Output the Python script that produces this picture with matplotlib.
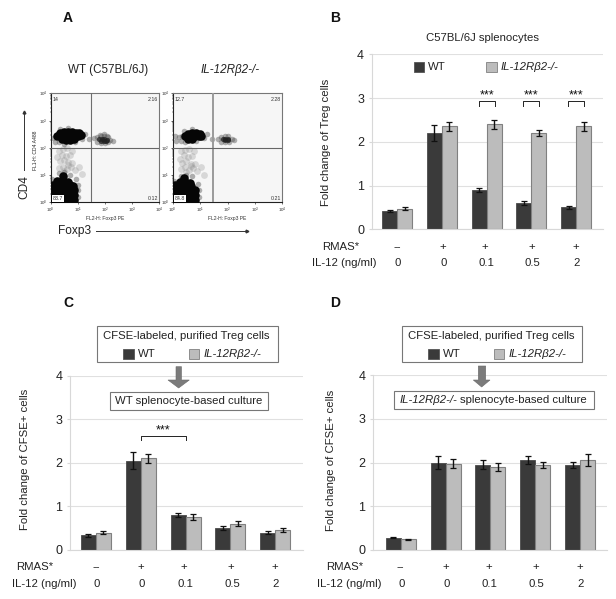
import matplotlib
matplotlib.use('Agg')
import matplotlib.pyplot as plt
import numpy as np
from matplotlib.patches import Rectangle, Polygon

plt.rcParams['font.family'] = ['Liberation Sans', 'DejaVu Sans']

W, H = 616, 599
DARK = '#3a3a3a'
LIGHT = '#bcbcbc'

rmas = ['--', '+', '+', '+', '+']
il12 = ['0', '0', '0.1', '0.5', '2']
ko_name = 'IL-12R\u03b22-/-'

# bar values
b_wt = [0.42, 2.2, 0.9, 0.6, 0.5]
b_wt_err = [0.03, 0.18, 0.05, 0.05, 0.04]
b_ko = [0.47, 2.35, 2.4, 2.2, 2.35]
b_ko_err = [0.03, 0.11, 0.1, 0.07, 0.11]

c_wt = [0.33, 2.05, 0.8, 0.5, 0.39]
c_wt_err = [0.04, 0.2, 0.05, 0.05, 0.03]
c_ko = [0.39, 2.1, 0.75, 0.6, 0.45]
c_ko_err = [0.03, 0.1, 0.06, 0.05, 0.04]

d_wt = [0.28, 2.0, 1.95, 2.06, 1.95]
d_wt_err = [0.01, 0.15, 0.1, 0.1, 0.07]
d_ko = [0.25, 1.97, 1.9, 1.95, 2.06]
d_ko_err = [0.01, 0.1, 0.09, 0.07, 0.13]

# flow dots, in decades (log10), estimated by eye
wt_dense_x = [0.1, 0.3, 0.5, 0.7, 0.85, 0.1, 0.3, 0.5, 0.7, 0.85, 0.1, 0.3, 0.5, 0.7, 0.85, 0.1, 0.3, 0.5, 0.7, 0.82, 0.25, 0.45, 0.65, 0.45,
              0.25, 0.4, 0.55, 0.7, 0.85, 1.0, 1.12, 0.35, 0.5, 0.65, 0.8, 0.95, 1.05, 0.4, 0.55, 0.7, 0.85]
wt_dense_y = [0.1, 0.1, 0.1, 0.1, 0.1, 0.28, 0.28, 0.28, 0.28, 0.28, 0.46, 0.46, 0.46, 0.46, 0.46, 0.64, 0.64, 0.64, 0.64, 0.6, 0.8, 0.8, 0.76, 0.95,
              2.44, 2.44, 2.44, 2.44, 2.44, 2.44, 2.48, 2.55, 2.58, 2.58, 2.58, 2.55, 2.55, 2.32, 2.3, 2.3, 2.34]
wt_halo_x = [0.05, 1.0, 1.02, 1.0, 0.95, 0.3, 0.5, 0.7, 0.08, 0.15, 0.3, 0.5, 0.9, 1.15, 1.25, 0.65, 0.35,
             1.6, 1.72, 1.85, 1.98, 2.1, 2.2, 1.7, 1.85, 2.0, 2.12, 1.42, 2.3, 1.8, 1.95, 2.08]
wt_halo_y = [0.85, 0.2, 0.45, 0.65, 0.85, 1.08, 1.1, 1.02, 2.35, 2.22, 2.2, 2.15, 2.2, 2.32, 2.5, 2.72, 2.68,
             2.35, 2.4, 2.42, 2.45, 2.4, 2.3, 2.22, 2.18, 2.18, 2.22, 2.33, 2.25, 2.48, 2.5, 2.45]
wt_core_x = [1.78, 1.88, 1.98, 2.08, 1.85, 1.95, 2.05]
wt_core_y = [2.32, 2.34, 2.32, 2.3, 2.25, 2.26, 2.24]
wt_cloud_x = [0.3, 0.45, 0.6, 0.75, 0.35, 0.5, 0.65, 0.8, 0.4, 0.55, 0.7, 0.3, 0.45, 0.6, 0.78, 0.5, 0.65, 0.25, 0.9, 1.05, 1.15]
wt_cloud_y = [1.25, 1.3, 1.22, 1.28, 1.5, 1.55, 1.48, 1.45, 1.75, 1.7, 1.72, 1.9, 1.95, 1.98, 1.9, 1.15, 1.38, 1.65, 1.2, 1.3, 1.05]
wt_sparse_x = [0.3, 0.42, 0.5, 0.55, 0.62, 0.7, 0.78, 0.35, 0.48, 0.58, 0.66, 0.82, 0.95, 0.25, 0.4, 0.55, 0.72, 0.9, 1.05,
               0.3, 0.47, 0.6, 0.75, 1.0, 1.2, 0.38, 0.52, 0.68, 0.85, 1.1, 1.3, 1.42, 1.28, 0.15, 0.22, 0.12, 0.08, 0.9,
               1.5, 1.62, 1.78, 1.9, 2.05, 2.2, 1.7, 1.85, 2.0, 2.3, 2.45, 1.95, 1.6, 1.72, 1.45, 1.9, 2.05, 2.12, 1.88,
               1.15, 1.25, 1.38, 1.08, 1.3, 2.05, 2.1, 2.25, 3.1, 3.3, 3.55, 2.4, 2.55, 2.85, 2.95, 1.8, 1.1, 0.2]
wt_sparse_y = [1.95, 1.85, 1.7, 1.92, 1.78, 1.6, 1.88, 1.55, 1.5, 1.62, 1.42, 1.72, 1.55, 1.35, 1.15, 1.2, 1.18, 1.38, 1.3,
               1.75, 1.9, 1.1, 1.48, 1.7, 1.4, 1.65, 1.8, 1.65, 1.25, 1.15, 1.05, 0.95, 1.6, 1.9, 1.6, 1.3, 2.05, 1.98,
               2.55, 2.6, 2.65, 2.55, 2.62, 2.5, 2.05, 2.0, 1.92, 2.1, 2.3, 1.75, 1.85, 1.55, 1.7, 1.45, 1.6, 1.3, 0.45,
               0.55, 0.3, 0.72, 0.08, 0.15, 0.55, 0.32, 0.8, 0.05, 0.1, 0.06, 2.15, 2.3, 0.12, 0.07, 3.3, 2.75, 2.8]

ko_dense_x = [0.1, 0.3, 0.5, 0.7, 0.82, 0.1, 0.3, 0.5, 0.7, 0.82, 0.1, 0.3, 0.5, 0.7, 0.82, 0.1, 0.3, 0.5, 0.68, 0.25, 0.45, 0.62, 0.42,
              0.45, 0.58, 0.7, 0.82, 0.95, 1.05, 0.55, 0.7, 0.85, 0.98, 0.55, 0.7]
ko_dense_y = [0.1, 0.1, 0.1, 0.1, 0.1, 0.28, 0.28, 0.28, 0.28, 0.28, 0.46, 0.46, 0.46, 0.46, 0.46, 0.62, 0.62, 0.62, 0.6, 0.76, 0.76, 0.72, 0.9,
              2.42, 2.42, 2.44, 2.45, 2.45, 2.45, 2.52, 2.54, 2.54, 2.5, 2.33, 2.34]
ko_halo_x = [0.05, 0.95, 0.97, 0.92, 0.3, 0.5, 0.7, 0.1, 0.22, 0.35, 0.12, 0.3, 0.45, 0.85, 1.15, 1.25, 0.7, 0.4,
             1.65, 1.75, 1.9, 2.02, 2.15, 1.75, 1.92, 2.05, 1.42, 2.25]
ko_halo_y = [0.8, 0.2, 0.45, 0.68, 0.98, 1.02, 0.95, 2.42, 2.4, 2.45, 2.25, 2.25, 2.2, 2.25, 2.35, 2.5, 2.68, 2.62,
             2.33, 2.38, 2.42, 2.42, 2.32, 2.22, 2.2, 2.22, 2.33, 2.3]
ko_core_x = [1.82, 1.92, 2.02, 1.9, 2.0]
ko_core_y = [2.33, 2.34, 2.32, 2.27, 2.27]
ko_cloud_x = [0.3, 0.45, 0.6, 0.75, 0.35, 0.5, 0.65, 0.8, 0.4, 0.55, 0.7, 0.3, 0.45, 0.6, 0.78, 0.5, 0.65, 0.25, 0.9, 1.05, 1.15]
ko_cloud_y = [1.22, 1.28, 1.2, 1.25, 1.45, 1.52, 1.42, 1.4, 1.72, 1.68, 1.7, 1.88, 1.92, 1.95, 1.88, 1.12, 1.35, 1.6, 1.15, 1.3, 1.0]
ko_sparse_x = [0.3, 0.42, 0.5, 0.55, 0.62, 0.7, 0.78, 0.35, 0.48, 0.58, 0.66, 0.82, 0.95, 0.25, 0.4, 0.55, 0.72, 0.9, 1.05,
               0.3, 0.47, 0.6, 0.75, 1.0, 1.2, 0.38, 0.52, 0.68, 0.85, 1.1, 1.3, 1.35, 1.25, 0.15, 0.22, 0.12, 0.08, 0.9,
               1.5, 1.62, 1.78, 1.9, 2.05, 2.2, 1.7, 1.85, 2.0, 2.3, 2.4, 1.95, 1.6, 1.72, 1.45, 1.9, 2.05, 1.88,
               1.15, 1.25, 1.05, 2.0, 1.95, 2.05, 3.0, 3.2, 3.45, 1.9, 1.95, 2.05, 1.1, 0.2]
ko_sparse_y = [1.95, 1.85, 1.7, 1.92, 1.78, 1.6, 1.88, 1.55, 1.5, 1.62, 1.42, 1.72, 1.55, 1.35, 1.15, 1.2, 1.18, 1.38, 1.3,
               1.75, 1.9, 1.1, 1.48, 1.7, 1.4, 1.65, 1.8, 1.65, 1.25, 1.15, 1.05, 1.2, 1.6, 1.9, 1.6, 1.3, 2.05, 1.98,
               2.55, 2.6, 2.65, 2.55, 2.62, 2.5, 2.05, 2.0, 1.92, 2.1, 2.3, 1.75, 1.85, 1.55, 1.7, 1.45, 1.6, 0.85,
               0.55, 0.3, 0.08, 0.55, 0.32, 0.12, 3.8, 3.82, 3.78, 3.65, 3.72, 3.68, 2.75, 2.8]

fig = plt.figure(figsize=(W / 100, H / 100), dpi=100, facecolor='white')


def fx(px):
    return px / W


def fy(py):
    return 1 - py / H


def add_axes(left, right, top, bottom):
    return fig.add_axes([fx(left), fy(bottom), (right - left) / W, (bottom - top) / H])


def label(px, py, s, **kw):
    kw.setdefault('ha', 'center')
    kw.setdefault('va', 'center')
    kw.setdefault('fontsize', 8.2)
    kw.setdefault('color', '#222222')
    return fig.text(fx(px), fy(py), s, **kw)


def box(x0, x1, y0, y1, **kw):
    fig.add_artist(Rectangle((fx(x0), fy(y1)), (x1 - x0) / W, (y1 - y0) / H,
                             transform=fig.transFigure, **kw))


def legend_row(wt_sq, wt_txt, ko_sq, ko_txt, y0, y1):
    box(wt_sq, wt_sq + 10.5, y0, y1, facecolor=DARK, edgecolor='#555555', lw=0.6, zorder=7)
    label(wt_txt, (y0 + y1) / 2 - 0.5, 'WT', ha='left', zorder=7)
    box(ko_sq, ko_sq + 10.5, y0, y1, facecolor=LIGHT, edgecolor='#808080', lw=0.6, zorder=7)
    label(ko_txt, (y0 + y1) / 2 - 0.5, ko_name, ha='left', style='italic', zorder=7)


def down_arrow(x0, x1, hx0, hx1, y0, y1, tip):
    pts = [(x0, y0), (x1, y0), (x1, y1), (hx1, y1), ((hx0 + hx1) / 2, tip), (hx0, y1), (x0, y1)]
    fig.add_artist(Polygon([(fx(a), fy(b)) for a, b in pts], closed=True,
                           transform=fig.transFigure, facecolor='#7b7b7b', edgecolor='#6a6a6a', lw=0.4))


def bars(ax, wt, wt_err, ko, ko_err):
    x = np.arange(5)
    w = 0.335
    ekw = dict(ecolor='#111111', elinewidth=1.0, capsize=2.2, capthick=0.9)
    ax.bar(x - w / 2, wt, w, color=DARK, edgecolor='#4a4a4a', lw=0.6, yerr=wt_err, error_kw=ekw, zorder=2)
    ax.bar(x + w / 2, ko, w, color=LIGHT, edgecolor='#808080', lw=0.8, yerr=ko_err, error_kw=ekw, zorder=2)
    ax.set_ylim(0, 4)
    ax.set_yticks([0, 1, 2, 3, 4])
    ax.set_xticks([])
    ax.grid(axis='y', color='#e0e0e0', lw=0.8, zorder=0)
    ax.set_axisbelow(True)
    for s in ['top', 'right']:
        ax.spines[s].set_visible(False)
    for s in ['left', 'bottom']:
        ax.spines[s].set_color('#d8d8d8')
        ax.spines[s].set_linewidth(0.8)
    ax.tick_params(axis='y', length=2.5, color='#d8d8d8', labelsize=9, labelcolor='#222222', pad=3)


def bracket(ax, x0, x1, top, low, star_y):
    ax.plot([x0, x0, x1, x1], [low, top, top, low], color='#222222', lw=0.7, zorder=3)
    ax.text((x0 + x1) / 2, star_y, '***', ha='center', va='center', fontsize=9, color='#111111')


def rows(centres, name_r, name_il, y_r, y_il):
    label(name_r, y_r, 'RMAS*', ha='right')
    label(name_il, y_il, 'IL-12 (ng/ml)', ha='right')
    for c, a, b in zip(centres, rmas, il12):
        label(c, y_r, a)
        label(c + 1, y_il, b)


def flow(ax, dense_x, dense_y, halo_x, halo_y, core_x, core_y, cloud_x, cloud_y, sparse_x, sparse_y, quad_x, quad_lw, nums):
    ax.set_facecolor('#f6f6f6')
    ax.set_xscale('log')
    ax.set_yscale('log')
    ax.set_xlim(1, 1e4)
    ax.set_ylim(1, 1e4)
    ax.scatter(10 ** np.array(cloud_x), 10 ** np.array(cloud_y), s=24, c='#888888', alpha=0.28, lw=0, zorder=2)
    ax.scatter(10 ** np.array(halo_x), 10 ** np.array(halo_y), s=16, c='#555555', alpha=0.45, lw=0, zorder=2)
    ax.scatter(10 ** np.array(sparse_x), 10 ** np.array(sparse_y), s=0.5, c='#666666', marker='s', lw=0, zorder=3)
    ax.scatter(10 ** np.array(dense_x), 10 ** np.array(dense_y), s=38, c='#060606', lw=0, zorder=4)
    ax.scatter(10 ** np.array(core_x), 10 ** np.array(core_y), s=14, c='#222222', alpha=0.8, lw=0, zorder=4)
    ax.axvline(quad_x, color='#6e6e6e' if quad_lw < 1 else '#9a9a9a', lw=quad_lw, zorder=5)
    ax.axhline(100, color='#666666', lw=0.8, zorder=5)
    for s in ax.spines.values():
        s.set_color('#777777')
        s.set_linewidth(0.8)
    ax.spines['left'].set_color('#222222')
    ax.spines['bottom'].set_color('#222222')
    ax.set_xticks([1, 10, 100, 1000, 10000])
    ax.set_yticks([1, 10, 100, 1000, 10000])
    ax.minorticks_on()
    ax.tick_params(which='both', labelsize=3.2, length=1.5, width=0.4, pad=1, labelcolor='#333333')
    ax.tick_params(which='minor', length=0.8, width=0.3)
    ax.text(0.015, 0.97, nums[0], transform=ax.transAxes, fontsize=3.8, va='top', ha='left', color='#333333', zorder=6)
    ax.text(0.985, 0.97, nums[1], transform=ax.transAxes, fontsize=3.8, va='top', ha='right', color='#333333', zorder=6)
    ax.text(0.985, 0.015, nums[2], transform=ax.transAxes, fontsize=3.8, va='bottom', ha='right', color='#333333', zorder=6)
    ax.text(0.02, 0.015, nums[3], transform=ax.transAxes, fontsize=3.8, va='bottom', ha='left', color='#333333', zorder=6,
            bbox=dict(facecolor='white', edgecolor='none', pad=0.8))


# panel A
ax_a1 = add_axes(50.7, 159.3, 93.3, 202.3)
flow(ax_a1, wt_dense_x, wt_dense_y, wt_halo_x, wt_halo_y, wt_core_x, wt_core_y, wt_cloud_x, wt_cloud_y, wt_sparse_x, wt_sparse_y,
     10 ** 1.47, 0.8, ['14', '2.16', '0.12', '83.7'])
ax_a2 = add_axes(172.7, 282.3, 93.3, 202.3)
flow(ax_a2, ko_dense_x, ko_dense_y, ko_halo_x, ko_halo_y, ko_core_x, ko_core_y, ko_cloud_x, ko_cloud_y, ko_sparse_x, ko_sparse_y,
     10 ** 1.46, 1.4, ['12.7', '2.28', '0.21', '84.8'])
ax_a1.set_xlabel('FL2-H: Foxp3 PE', fontsize=3.6, labelpad=0.5, color='#333333')
ax_a2.set_xlabel('FL2-H: Foxp3 PE', fontsize=3.6, labelpad=0.5, color='#333333')
label(35.5, 150, 'FL1-H: CD4 A488', fontsize=3.6, rotation=90)

label(108, 70, 'WT (C57BL/6J)', fontsize=8.4)
label(230, 70, ko_name, fontsize=8.4, style='italic')
label(24, 187, 'CD4', fontsize=8.6, rotation=90)
label(75, 231, 'Foxp3', fontsize=8.6)
fig.add_artist(plt.Line2D([fx(24), fx(24)], [fy(170), fy(112)], color='#333333', lw=0.7,
                          marker='^', markersize=2, markevery=[1]))
fig.add_artist(plt.Line2D([fx(96), fx(246.5)], [fy(231), fy(231)], color='#333333', lw=0.7,
                          marker='>', markersize=2, markevery=[1]))

# panel B
ax_b = add_axes(371.7, 603, 54.3, 229.3)
bars(ax_b, b_wt, b_wt_err, b_ko, b_ko_err)
ax_b.set_xlim(-0.565, 4.6)
for i in [2, 3, 4]:
    bracket(ax_b, i - 0.18, i + 0.18, 2.93, 2.82, 3.05)
label(326, 142.3, 'Fold change of Treg cells', rotation=90)
label(482.7, 38.3, 'C57BL/6J splenocytes', fontsize=8.2)
legend_row(413.5, 428, 486, 500.7, 62, 72)
rows([397, 442.5, 485, 531.5, 576], 359, 376.7, 246.7, 263.3)

# panel C
ax_c = add_axes(70, 303, 375.7, 549.7)
bars(ax_c, c_wt, c_wt_err, c_ko, c_ko_err)
ax_c.set_xlim(-0.58, 4.62)
bracket(ax_c, 1.0, 2.0, 2.61, 2.52, 2.75)
label(25, 459.7, 'Fold change of CFSE+ cells', rotation=90)
box(97.3, 277.7, 325.7, 362.3, facecolor='white', edgecolor='#777777', lw=0.8, zorder=5)
label(186.3, 336, 'CFSE-labeled, purified Treg cells', zorder=6)
legend_row(123.3, 137.7, 188.5, 203.3, 349.3, 359.3)
down_arrow(176, 181.5, 168, 189.3, 366.7, 380, 388)
box(109.7, 268.3, 392.3, 410, facecolor='white', edgecolor='#777777', lw=0.8, zorder=5)
label(188.3, 401, 'WT splenocyte-based culture', zorder=6)
rows([96, 141, 184, 231, 275], 53, 76, 567.3, 584.3)

# panel D
ax_d = add_axes(373, 607, 375, 550)
bars(ax_d, d_wt, d_wt_err, d_ko, d_ko_err)
ax_d.set_xlim(-0.62, 4.6)
label(330.7, 460, 'Fold change of CFSE+ cells', rotation=90)
box(402.3, 582, 325.7, 362.3, facecolor='white', edgecolor='#777777', lw=0.8, zorder=5)
label(491, 336, 'CFSE-labeled, purified Treg cells', zorder=6)
legend_row(428, 442.7, 493.5, 508.3, 349.3, 359.3)
down_arrow(478.3, 485.7, 473.3, 490, 366, 380, 387)
box(394.3, 594.3, 390.7, 409, facecolor='white', edgecolor='#777777', lw=0.8, zorder=5)
label(399.5, 400, ko_name, ha='left', style='italic', zorder=6)
label(460, 400, 'splenocyte-based culture', ha='left', zorder=6)
rows([400.7, 446, 488.5, 535.5, 580], 363, 381, 566.7, 583.7)

# panel letters
for px, py, s in [(68, 18, 'A'), (335, 18, 'B'), (68, 303, 'C'), (335, 303, 'D')]:
    label(px, py, s, fontsize=10, fontweight='bold', color='#111111')

fig.savefig('out.png', dpi=100)
